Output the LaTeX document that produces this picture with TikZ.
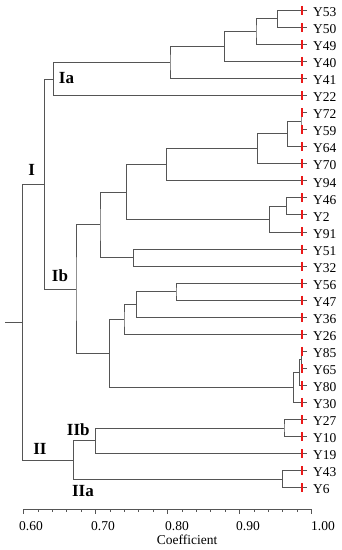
\documentclass[tikz,border=0pt]{standalone}
\usepackage{fontspec}
\setmainfont{Liberation Serif}
\usetikzlibrary{calc}
\definecolor{treec}{RGB}{85,85,85}
\definecolor{cutc}{RGB}{235,25,25}
\tikzset{
  branch/.style={draw=treec, line width=0.9pt},
  axisline/.style={draw=treec, line width=0.8pt},
  leaflbl/.style={anchor=west, inner sep=0pt, font=\fontsize{13.5}{15}\selectfont},
  clab/.style={inner sep=0pt, font=\fontsize{17}{19}\selectfont\bfseries},
  ticklbl/.style={inner sep=0pt, font=\fontsize{13.5}{15}\selectfont},
  cutline/.style={draw=cutc, line width=2.2pt, dash pattern=on 9pt off 8.05pt},
}
\newcommand\mrg[4]{%
  \path let \p1=(#3), \p2=(#4) in (#2pt,{0.5*\y1+0.5*\y2}) coordinate (#1);
  \draw[branch] (#3) -| (#1) |- (#4);}
\begin{document}
\begin{tikzpicture}[x=1pt,y=-1pt]
\useasboundingbox (0,0) rectangle (342,550);
% leaves
\foreach \n [count=\i from 0] in {Y53,Y50,Y49,Y40,Y41,Y22,Y72,Y59,Y64,Y70,Y94,Y46,Y2,Y91,Y51,Y32,Y56,Y47,Y36,Y26,Y85,Y65,Y80,Y30,Y27,Y10,Y19,Y43,Y6}{
  \coordinate (l\n) at (307,{10.3+17.05*\i});
  \node[leaflbl,yshift=-1.8pt] (t\n) at (313,{10.3+17.05*\i}) {\n};
}
% cluster Ia
\mrg{a1}{277.7}{lY53}{lY50}
\mrg{a2}{256}{a1}{lY49}
\mrg{a3}{224.3}{a2}{lY40}
\mrg{a4}{170}{a3}{lY41}
\mrg{Ia}{53.3}{a4}{lY22}
% cluster Ib
\mrg{b1}{301}{lY72}{lY59}
\mrg{b2}{287.7}{b1}{lY64}
\mrg{b3}{257.7}{b2}{lY70}
\mrg{b4}{166.7}{b3}{lY94}
\mrg{b5}{286.7}{lY46}{lY2}
\mrg{b6}{269.3}{b5}{lY91}
\mrg{b7}{126.7}{b4}{b6}
\mrg{b8}{133.3}{lY51}{lY32}
\mrg{b9}{100}{b7}{b8}
\mrg{c1}{176}{lY56}{lY47}
\mrg{c2}{136.7}{c1}{lY36}
\mrg{c3}{124}{c2}{lY26}
\mrg{c4}{301.8}{lY85}{lY65}
\mrg{c5}{299.3}{c4}{lY80}
\mrg{c6}{293.3}{c5}{lY30}
\mrg{c7}{109.3}{c3}{c6}
\mrg{Ib}{76}{b9}{c7}
\mrg{I}{44.3}{Ia}{Ib}
% cluster II
\mrg{d1}{284}{lY27}{lY10}
\mrg{d2}{95.7}{d1}{lY19}
\mrg{d3}{282.3}{lY43}{lY6}
\mrg{II}{73.3}{d2}{d3}
\mrg{root}{22.7}{I}{II}
\path let \p1=(root) in (5pt,\y1) coordinate (stub);
\draw[branch] (stub) -- (root);
% cut line
\coordinate (cuttop) at (302,{10.3-4.5});
\coordinate (cutbot) at (302,{10.3+17.05*28+4.5});
\draw[cutline] (cuttop) -- (cutbot);
% cluster labels
\node[clab] (labIa) at (66.5,78) {Ia};
\node[clab] (labI) at (31.7,170) {I};
\node[clab] (labIb) at (60,275.5) {Ib};
\node[clab] (labIIb) at (78.3,430) {IIb};
\node[clab] (labII) at (40,449) {II};
\node[clab] (labIIa) at (83,491) {IIa};
% axis
\coordinate (ax0) at (23.5,509);
\coordinate (ax1) at (311.7,509);
\draw[axisline] (ax0) -- (ax1);
\foreach \k in {0,...,20}{
  \pgfmathsetmacro\tl{mod(\k,5)==0 ? 5 : 2.5}
  \draw[axisline] ({23.5+\k*14.41},509) -- ++(0,\tl);
}
\node[ticklbl] (t060) at (31,526) {0.60};
\node[ticklbl] (t070) at (103,526) {0.70};
\node[ticklbl] (t080) at (177,526) {0.80};
\node[ticklbl] (t090) at (248,526) {0.90};
\node[ticklbl] (t100) at (323,526) {1.00};
\node[ticklbl] (xlab) at (187,539.5) {Coefficient};
\end{tikzpicture}
\end{document}
